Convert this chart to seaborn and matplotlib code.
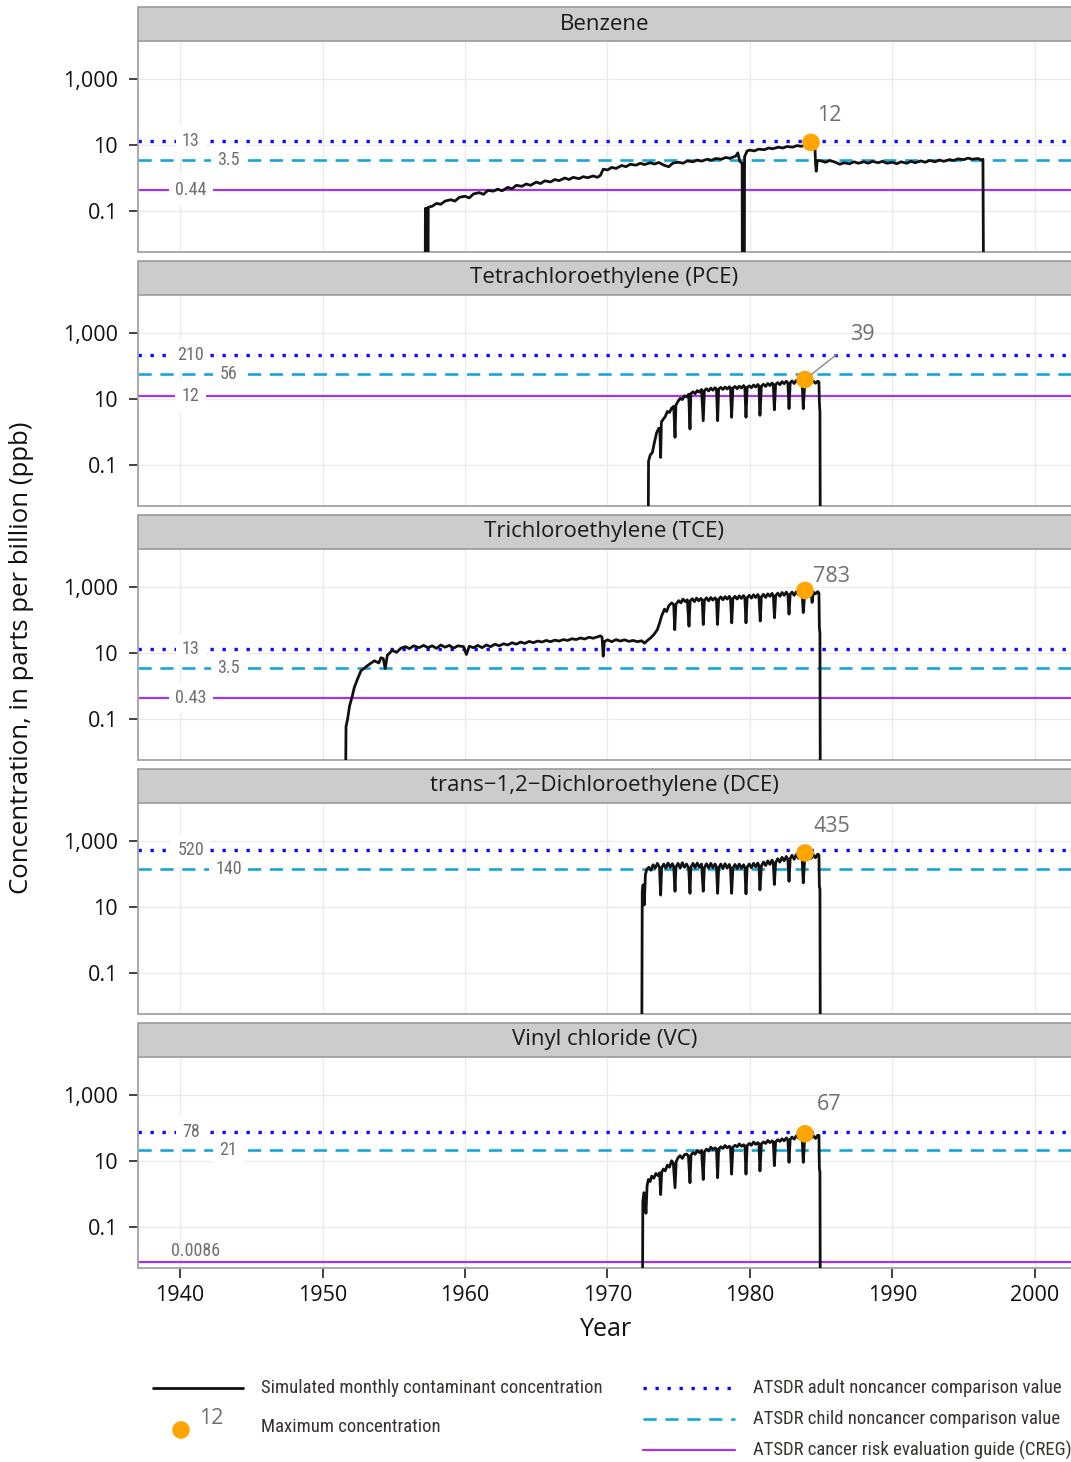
import matplotlib
matplotlib.use("Agg")
import numpy as np
import pandas as pd
import matplotlib.pyplot as plt
from matplotlib import font_manager
from matplotlib.patches import Rectangle
from matplotlib.lines import Line2D
from matplotlib.ticker import NullLocator
import seaborn as sns

# ---------------------------------------------------------------- data
chemicals = [
    "Benzene",
    "Tetrachloroethylene (PCE)",
    "Trichloroethylene (TCE)",
    "trans\u22121,2\u2212Dichloroethylene (DCE)",
    "Vinyl chloride (VC)",
]

# simulated monthly concentration, ppb (1e-4 marks the series dropping to nil)
benzene = [
    (1957.20, 1e-4), (1957.22, 0.12), (1957.30, 0.12), (1957.32, 1e-4), (1957.40, 1e-4),
    (1957.42, 0.13), (1957.7, 0.14), (1958.0, 0.17), (1958.3, 0.16), (1958.6, 0.20),
    (1959.0, 0.22), (1959.3, 0.20), (1959.6, 0.26), (1960.0, 0.28), (1960.3, 0.25),
    (1960.6, 0.33), (1961.0, 0.36), (1961.3, 0.32), (1961.6, 0.42), (1962.0, 0.40),
    (1962.3, 0.46), (1962.6, 0.41), (1963.0, 0.52), (1963.3, 0.47), (1963.6, 0.60),
    (1964.0, 0.56), (1964.3, 0.66), (1964.6, 0.60), (1965.0, 0.75), (1965.3, 0.68),
    (1965.6, 0.82), (1966.0, 0.76), (1966.3, 0.90), (1966.6, 0.83), (1967.0, 1.00),
    (1967.3, 0.90), (1967.6, 1.05), (1968.0, 0.95), (1968.3, 1.10), (1968.6, 1.02),
    (1969.0, 1.15), (1969.3, 1.05), (1969.5, 1.20), (1969.7, 1.85), (1970.0, 1.75),
    (1970.3, 2.10), (1970.6, 1.95), (1971.0, 2.40), (1971.3, 2.20), (1971.6, 2.60),
    (1972.0, 2.45), (1972.3, 2.80), (1972.6, 2.55), (1973.0, 2.90), (1973.3, 2.65),
    (1973.6, 2.95), (1974.0, 2.40), (1974.3, 2.20), (1974.6, 2.85), (1975.0, 3.00),
    (1975.3, 2.80), (1975.6, 3.30), (1976.0, 3.10), (1976.3, 3.50), (1976.6, 3.25),
    (1977.0, 3.70), (1977.3, 3.45), (1977.6, 3.90), (1978.0, 3.70), (1978.3, 4.20),
    (1978.6, 3.95), (1979.0, 4.60), (1979.15, 5.80), (1979.28, 3.20), (1979.45, 2.80),
    (1979.47, 1e-4), (1979.60, 1e-4), (1979.62, 4.40), (1979.80, 6.60), (1980.0, 7.0),
    (1980.3, 6.6), (1980.6, 7.5), (1981.0, 7.2), (1981.3, 8.1), (1981.6, 7.7),
    (1982.0, 8.6), (1982.3, 8.1), (1982.6, 9.0), (1983.0, 8.6), (1983.3, 9.6),
    (1983.6, 9.1), (1984.0, 10.4), (1984.28, 12.0), (1984.55, 10.5), (1984.60, 2.8),
    (1984.65, 1.6), (1984.72, 3.4), (1985.0, 3.3), (1985.3, 3.0), (1985.6, 3.4),
    (1986.0, 3.0), (1986.3, 2.6), (1986.6, 2.9), (1987.0, 2.7), (1987.3, 3.1),
    (1987.6, 2.8), (1988.0, 3.1), (1988.3, 2.8), (1988.6, 3.2), (1989.0, 2.9),
    (1989.3, 3.2), (1989.6, 2.8), (1990.0, 3.0), (1990.3, 2.7), (1990.6, 3.1),
    (1991.0, 2.8), (1991.3, 3.2), (1991.6, 2.9), (1992.0, 3.3), (1992.3, 3.0),
    (1992.6, 3.4), (1993.0, 3.1), (1993.3, 3.5), (1993.6, 3.2), (1994.0, 3.6),
    (1994.3, 3.4), (1994.6, 3.8), (1995.0, 3.6), (1995.3, 4.0), (1995.6, 3.7),
    (1996.0, 3.9), (1996.25, 3.5), (1996.35, 3.7), (1996.40, 1e-4),
]

pce = [
    (1972.85, 1e-4), (1972.88, 0.13), (1973.00, 0.20), (1973.15, 0.24), (1973.30, 0.50),
    (1973.45, 0.95), (1973.60, 1.30), (1973.68, 1.00), (1973.73, 0.17), (1973.78, 2.0),
    (1973.90, 2.4), (1974.05, 2.9), (1974.20, 4.2), (1974.35, 3.9), (1974.50, 5.3),
    (1974.65, 6.0), (1974.74, 0.69), (1974.80, 6.5), (1974.95, 8.5), (1975.10, 10.5),
    (1975.25, 9.6), (1975.40, 12.5), (1975.55, 11.5), (1975.70, 14.0), (1975.79, 1.23),
    (1975.85, 14.5), (1976.00, 16.5), (1976.15, 14.5), (1976.30, 18.0), (1976.45, 16.0),
    (1976.60, 19.5), (1976.72, 2.2), (1976.80, 18.0), (1976.95, 20.5), (1977.10, 17.5),
    (1977.25, 21.5), (1977.40, 18.5), (1977.55, 22.0), (1977.65, 19.5), (1977.73, 2.2),
    (1977.80, 20.0), (1977.95, 22.5), (1978.10, 19.5), (1978.25, 23.0), (1978.40, 20.0),
    (1978.55, 23.5), (1978.63, 21.5), (1978.71, 2.8), (1978.80, 21.5), (1978.95, 24.0),
    (1979.10, 20.5), (1979.25, 24.5), (1979.40, 21.5), (1979.55, 25.5), (1979.64, 22.5),
    (1979.72, 2.8), (1979.80, 22.5), (1979.95, 25.0), (1980.10, 22.0), (1980.25, 26.5),
    (1980.40, 23.0), (1980.55, 27.5), (1980.63, 24.5), (1980.70, 3.2), (1980.80, 24.5),
    (1980.95, 28.0), (1981.10, 24.0), (1981.25, 29.5), (1981.40, 25.5), (1981.55, 30.5),
    (1981.64, 27.5), (1981.71, 4.7), (1981.80, 27.5), (1981.95, 31.5), (1982.10, 27.0),
    (1982.25, 33.5), (1982.40, 29.0), (1982.55, 34.5), (1982.66, 30.5), (1982.74, 5.1),
    (1982.82, 30.5), (1982.95, 35.5), (1983.10, 29.5), (1983.25, 36.5), (1983.40, 32.0),
    (1983.55, 37.5), (1983.66, 33.5), (1983.74, 5.1), (1983.86, 39.0), (1984.00, 33.0),
    (1984.15, 36.5), (1984.30, 31.0), (1984.45, 35.0), (1984.60, 30.0), (1984.75, 34.5),
    (1984.84, 33.0), (1984.87, 8.0), (1984.91, 4.0), (1984.94, 1e-4),
]

tce = [
    (1951.60, 1e-4), (1951.65, 0.06), (1951.76, 0.10), (1951.90, 0.25), (1952.07, 0.46),
    (1952.23, 0.90), (1952.45, 1.6), (1952.70, 2.9), (1953.01, 3.7), (1953.30, 4.6),
    (1953.64, 5.8), (1953.95, 5.0), (1954.10, 7.2), (1954.26, 6.8), (1954.40, 3.4),
    (1954.55, 8.5), (1954.89, 12.0), (1955.2, 10.5), (1955.5, 14.0), (1955.83, 15.6),
    (1956.1, 13.5), (1956.4, 16.5), (1956.77, 14.5), (1957.1, 17.0), (1957.4, 14.5),
    (1957.7, 16.5), (1958.0, 13.8), (1958.3, 17.5), (1958.6, 15.0), (1958.9, 17.0),
    (1959.2, 14.0), (1959.5, 16.5), (1959.9, 15.6), (1960.1, 9.0), (1960.3, 16.0),
    (1960.6, 14.5), (1960.9, 17.0), (1961.2, 14.5), (1961.5, 17.5), (1961.8, 15.5),
    (1962.1, 18.5), (1962.4, 16.5), (1962.7, 19.0), (1963.0, 17.5), (1963.3, 20.5),
    (1963.6, 18.5), (1963.9, 21.5), (1964.2, 19.5), (1964.5, 22.5), (1964.8, 20.5),
    (1965.1, 23.0), (1965.4, 21.5), (1965.7, 24.0), (1966.0, 22.0), (1966.3, 24.5),
    (1966.6, 23.0), (1966.9, 25.5), (1967.2, 24.0), (1967.5, 27.0), (1967.8, 25.5),
    (1968.1, 28.5), (1968.4, 26.5), (1968.7, 30.0), (1969.0, 28.0), (1969.3, 31.0),
    (1969.5, 33.0), (1969.62, 30.0), (1969.70, 8.0), (1969.78, 22.0), (1970.0, 25.0),
    (1970.3, 22.0), (1970.6, 25.5), (1970.9, 23.0), (1971.2, 25.0), (1971.5, 22.5),
    (1971.8, 24.0), (1972.1, 22.0), (1972.4, 23.5), (1972.6, 19.8), (1972.8, 24.0),
    (1973.0, 28.0), (1973.25, 36.0), (1973.5, 51.0), (1973.65, 80.0), (1973.8, 133.0),
    (1974.0, 213.0), (1974.15, 180.0), (1974.3, 270.0), (1974.5, 330.0), (1974.65, 290.0),
    (1974.72, 51.0), (1974.80, 300.0), (1975.0, 385.0), (1975.15, 330.0), (1975.3, 430.0),
    (1975.45, 360.0), (1975.6, 410.0), (1975.72, 65.0), (1975.80, 380.0), (1975.95, 440.0),
    (1976.1, 360.0), (1976.25, 460.0), (1976.4, 380.0), (1976.55, 450.0), (1976.65, 400.0),
    (1976.72, 73.0), (1976.80, 390.0), (1976.95, 470.0), (1977.1, 380.0), (1977.25, 480.0),
    (1977.4, 400.0), (1977.55, 470.0), (1977.65, 410.0), (1977.72, 73.0), (1977.80, 420.0),
    (1977.95, 500.0), (1978.1, 410.0), (1978.25, 510.0), (1978.4, 430.0), (1978.55, 520.0),
    (1978.63, 450.0), (1978.72, 82.0), (1978.80, 440.0), (1978.95, 520.0), (1979.1, 430.0),
    (1979.25, 540.0), (1979.4, 450.0), (1979.55, 550.0), (1979.64, 470.0), (1979.72, 82.0),
    (1979.80, 470.0), (1979.95, 560.0), (1980.1, 460.0), (1980.25, 580.0), (1980.4, 480.0),
    (1980.55, 590.0), (1980.63, 500.0), (1980.72, 93.0), (1980.80, 500.0), (1980.95, 600.0),
    (1981.1, 480.0), (1981.25, 620.0), (1981.4, 520.0), (1981.55, 640.0), (1981.64, 540.0),
    (1981.72, 117.0), (1981.80, 540.0), (1981.95, 650.0), (1982.1, 520.0), (1982.25, 680.0),
    (1982.4, 560.0), (1982.55, 700.0), (1982.66, 580.0), (1982.74, 150.0), (1982.82, 600.0),
    (1982.95, 700.0), (1983.1, 560.0), (1983.25, 720.0), (1983.4, 600.0), (1983.55, 740.0),
    (1983.66, 620.0), (1983.74, 168.0), (1983.86, 783.0), (1984.0, 640.0), (1984.15, 740.0),
    (1984.3, 600.0), (1984.36, 340.0), (1984.45, 700.0), (1984.6, 620.0), (1984.75, 720.0),
    (1984.84, 650.0), (1984.87, 60.0), (1984.91, 40.0), (1984.94, 1e-4),
]

dce = [
    (1972.40, 1e-4), (1972.44, 30.0), (1972.50, 47.0), (1972.58, 11.5), (1972.66, 95.0),
    (1972.75, 137.0), (1972.90, 160.0), (1973.05, 130.0), (1973.20, 190.0), (1973.35, 150.0),
    (1973.50, 210.0), (1973.65, 160.0), (1973.73, 23.0), (1973.80, 150.0), (1973.95, 200.0),
    (1974.10, 150.0), (1974.25, 215.0), (1974.40, 160.0), (1974.55, 205.0), (1974.65, 165.0),
    (1974.74, 30.0), (1974.80, 160.0), (1974.95, 210.0), (1975.10, 150.0), (1975.25, 220.0),
    (1975.40, 160.0), (1975.55, 200.0), (1975.70, 150.0), (1975.79, 26.0), (1975.85, 160.0),
    (1976.00, 210.0), (1976.15, 155.0), (1976.30, 215.0), (1976.45, 160.0), (1976.60, 200.0),
    (1976.72, 30.0), (1976.80, 155.0), (1976.95, 205.0), (1977.10, 150.0), (1977.25, 210.0),
    (1977.40, 155.0), (1977.55, 200.0), (1977.65, 160.0), (1977.73, 26.0), (1977.80, 150.0),
    (1977.95, 200.0), (1978.10, 145.0), (1978.25, 205.0), (1978.40, 150.0), (1978.55, 195.0),
    (1978.63, 155.0), (1978.71, 26.0), (1978.80, 150.0), (1978.95, 195.0), (1979.10, 145.0),
    (1979.25, 200.0), (1979.40, 150.0), (1979.55, 190.0), (1979.64, 155.0), (1979.72, 25.0),
    (1979.80, 160.0), (1979.95, 200.0), (1980.10, 155.0), (1980.25, 210.0), (1980.40, 165.0),
    (1980.55, 215.0), (1980.63, 175.0), (1980.70, 33.0), (1980.80, 175.0), (1980.95, 230.0),
    (1981.10, 180.0), (1981.25, 250.0), (1981.40, 195.0), (1981.55, 265.0), (1981.64, 210.0),
    (1981.71, 48.0), (1981.80, 220.0), (1981.95, 290.0), (1982.10, 230.0), (1982.25, 320.0),
    (1982.40, 250.0), (1982.55, 340.0), (1982.66, 270.0), (1982.74, 60.0), (1982.82, 290.0),
    (1982.95, 370.0), (1983.10, 280.0), (1983.25, 390.0), (1983.40, 300.0), (1983.55, 400.0),
    (1983.66, 320.0), (1983.74, 54.0), (1983.86, 435.0), (1984.00, 330.0), (1984.15, 400.0),
    (1984.30, 300.0), (1984.45, 380.0), (1984.60, 310.0), (1984.75, 400.0), (1984.84, 380.0),
    (1984.87, 42.0), (1984.91, 35.0), (1984.94, 1e-4),
]

vc = [
    (1972.45, 1e-4), (1972.48, 0.6), (1972.56, 1.1), (1972.62, 0.9), (1972.70, 0.26),
    (1972.78, 1.8), (1972.87, 2.75), (1973.00, 2.4), (1973.10, 3.5), (1973.25, 3.0),
    (1973.40, 4.2), (1973.55, 3.6), (1973.66, 4.4), (1973.73, 0.96), (1973.80, 4.5),
    (1973.92, 5.7), (1974.05, 5.0), (1974.20, 7.5), (1974.35, 6.5), (1974.50, 10.2),
    (1974.62, 8.5), (1974.74, 1.55), (1974.82, 9.5), (1974.95, 12.5), (1975.09, 14.5),
    (1975.25, 12.0), (1975.40, 15.5), (1975.56, 16.3), (1975.68, 14.0), (1975.79, 2.2),
    (1975.86, 15.0), (1976.00, 18.0), (1976.15, 16.0), (1976.30, 20.7), (1976.45, 18.0),
    (1976.60, 21.0), (1976.72, 2.75), (1976.80, 19.0), (1976.95, 23.0), (1977.10, 20.0),
    (1977.25, 26.3), (1977.40, 22.0), (1977.55, 25.0), (1977.65, 23.0), (1977.73, 3.1),
    (1977.80, 23.0), (1977.95, 27.0), (1978.10, 24.0), (1978.25, 29.5), (1978.40, 25.0),
    (1978.55, 28.0), (1978.63, 26.0), (1978.71, 4.0), (1978.80, 26.0), (1978.95, 30.0),
    (1979.10, 27.0), (1979.25, 33.0), (1979.40, 28.0), (1979.55, 31.0), (1979.64, 29.0),
    (1979.72, 4.0), (1979.80, 29.0), (1979.95, 34.0), (1980.10, 30.0), (1980.25, 37.5),
    (1980.40, 32.0), (1980.55, 36.0), (1980.63, 33.0), (1980.70, 5.0), (1980.80, 33.0),
    (1980.95, 38.0), (1981.10, 34.0), (1981.25, 42.0), (1981.40, 36.0), (1981.55, 41.0),
    (1981.64, 38.0), (1981.71, 7.2), (1981.80, 38.0), (1981.95, 44.0), (1982.10, 39.0),
    (1982.25, 47.0), (1982.40, 41.0), (1982.55, 50.0), (1982.66, 44.0), (1982.74, 9.1),
    (1982.82, 45.0), (1982.95, 53.0), (1983.10, 46.0), (1983.25, 58.0), (1983.40, 50.0),
    (1983.55, 60.0), (1983.66, 52.0), (1983.74, 9.1), (1983.86, 67.0), (1984.00, 55.0),
    (1984.15, 62.0), (1984.30, 50.0), (1984.45, 58.0), (1984.60, 48.0), (1984.75, 60.0),
    (1984.84, 60.0), (1984.87, 6.0), (1984.91, 4.5), (1984.94, 1e-4),
]

series = [benzene, pce, tce, dce, vc]

# ATSDR comparison values, ppb
adult_cv = [13, 210, 13, 520, 78]
child_cv = [3.5, 56, 3.5, 140, 21]
creg = [0.44, 12, 0.43, None, 0.0086]

# maximum simulated concentration
max_year = [1984.28, 1983.86, 1983.86, 1983.86, 1983.86]
max_ppb = [12, 39, 783, 435, 67]

year_ticks = [1940, 1950, 1960, 1970, 1980, 1990, 2000]
ppb_ticks = [0.1, 10, 1000]
ppb_tick_labels = ["0.1", "10", "1,000"]

legend_labels = [
    "Simulated monthly contaminant concentration",
    "Maximum concentration",
    "ATSDR adult noncancer comparison value",
    "ATSDR child noncancer comparison value",
    "ATSDR cancer risk evaluation guide (CREG)",
]

# ---------------------------------------------------------------- styling
BLACK = "#111111"
ADULT = "#0a0aff"
CHILD = "#17a6d8"
CREG_C = "#a236ee"
ORANGE = "#ffa500"
LABEL_GRAY = "#6f6f6f"
STRIP = "#cccccc"
GRID = "#ebebeb"
SPINE = "#a3a3a3"
LEGEND_TXT = "#3a3131"

adult_ls = (0, (1.0, 2.6))
child_ls = (0, (5.0, 3.3))

sns.set_theme(style="white")
plt.rcParams["font.family"] = ["Open Sans", "DejaVu Sans"]

# narrow face for the reference-line labels and legend
_installed = {f.name for f in font_manager.fontManager.ttflist}
if "Roboto Condensed" in _installed:
    NARROW, NARROW_SCALE = ["Roboto Condensed", "DejaVu Sans"], 1.0
elif "Liberation Sans Narrow" in _installed:
    NARROW, NARROW_SCALE = ["Liberation Sans Narrow", "DejaVu Sans"], 1.0
else:
    NARROW, NARROW_SCALE = ["Roboto", "DejaVu Sans"], 0.85

frames = []
for name, pts in zip(chemicals, series):
    yrs, vals = zip(*pts)
    frames.append(pd.DataFrame({"chemical": name, "year": yrs, "ppb": vals}))
df = pd.concat(frames, ignore_index=True)

g = sns.FacetGrid(df, row="chemical", row_order=chemicals, sharex=True, sharey=True,
                  height=2.1, aspect=4.4, despine=False)
g.map_dataframe(sns.lineplot, x="year", y="ppb", color=BLACK, linewidth=2.0,
                estimator=None, sort=False, zorder=3)
fig = g.figure
fig.set_size_inches(10.71, 14.62)
fig.set_dpi(100)
g.set_titles("")
g.set_axis_labels("", "")

W, H = 1071.0, 1462.0
label_offsets = [(18, 27), (57, 45), (27, 14), (27, 26), (24, 29)]
ref_fs = 13.0 * NARROW_SCALE

for i, ax in enumerate(g.axes.flat):
    top = 42 + 254 * i
    ax.set_position([138 / W, 1 - (top + 210) / H, 933 / W, 210 / H])
    ax.set_yscale("log")
    ax.set_ylim(0.00573, 13200)
    ax.set_xlim(1937.05, 2002.53)
    ax.set_yticks(ppb_ticks)
    ax.set_yticklabels(ppb_tick_labels)
    ax.yaxis.set_minor_locator(NullLocator())
    ax.set_xticks(year_ticks)
    ax.xaxis.set_minor_locator(NullLocator())
    ax.grid(True, which="major", color=GRID, lw=1.0, zorder=0)
    ax.set_axisbelow(True)
    for s in ("top", "right"):
        ax.spines[s].set_visible(False)
    for s in ("left", "bottom"):
        ax.spines[s].set_color(SPINE)
        ax.spines[s].set_linewidth(1.3)
    ax.tick_params(axis="y", which="major", length=6.5, width=1.1, color=BLACK,
                   pad=8, labelsize=15.5, labelcolor=BLACK, left=True)
    if i == len(chemicals) - 1:
        ax.tick_params(axis="x", which="major", length=7, width=1.1, color=BLACK,
                       pad=5, labelsize=15.5, labelcolor=BLACK, bottom=True,
                       labelbottom=True)
        ax.set_xticklabels([str(y) for y in year_ticks])
    else:
        ax.tick_params(axis="x", length=0, labelbottom=False)

    # strip with panel title
    ax.add_patch(Rectangle((0, 1 + 1 / 210), 1.01, 34 / 210, transform=ax.transAxes,
                           clip_on=False, facecolor=STRIP, edgecolor="#9a9a9a",
                           lw=1.2, zorder=5))
    ax.text(0.5, 1 + 18 / 210, chemicals[i], transform=ax.transAxes, ha="center",
            va="center", fontsize=16, color="#1a1a1a", zorder=6)

    # comparison lines
    ax.axhline(adult_cv[i], color=ADULT, lw=2.4, ls=adult_ls, dash_capstyle="butt",
               zorder=2)
    ax.axhline(child_cv[i], color=CHILD, lw=1.9, ls=child_ls, dash_capstyle="butt",
               zorder=2)
    box = dict(boxstyle="square,pad=0.35", facecolor="white", edgecolor="none")
    ax.text(1940.75, adult_cv[i], f"{adult_cv[i]:g}", ha="center", va="center",
            fontsize=ref_fs, color=LABEL_GRAY, family=NARROW, bbox=box, zorder=4)
    ax.text(1943.4, child_cv[i], f"{child_cv[i]:g}", ha="center", va="center",
            fontsize=ref_fs, color=LABEL_GRAY, family=NARROW, bbox=box, zorder=4)
    if creg[i] is not None:
        ax.axhline(creg[i], color=CREG_C, lw=1.6, zorder=2)
        if creg[i] < 0.05:
            ax.annotate(f"{creg[i]:g}", xy=(1941.1, creg[i]), xytext=(0, 8),
                        textcoords="offset points", ha="center", va="center",
                        fontsize=ref_fs, color=LABEL_GRAY, family=NARROW, zorder=4)
        else:
            ax.text(1940.75, creg[i], f"{creg[i]:g}", ha="center", va="center",
                    fontsize=ref_fs, color=LABEL_GRAY, family=NARROW, bbox=box,
                    zorder=4)

    # maximum concentration marker
    sns.scatterplot(x=[max_year[i]], y=[max_ppb[i]], ax=ax, color=ORANGE, s=160,
                    edgecolor="none", zorder=5, legend=False)
    dx, dy = label_offsets[i]
    arrow = (dict(arrowstyle="-", color="#8a8a8a", lw=1.0, shrinkA=9, shrinkB=6)
             if i == 1 else None)
    ax.annotate(f"{max_ppb[i]:g}", xy=(max_year[i], max_ppb[i]),
                xytext=(dx * 0.72, dy * 0.72), textcoords="offset points",
                ha="center", va="center", fontsize=15.5, color=LABEL_GRAY,
                arrowprops=arrow, zorder=6)

# axis titles
fig.text(22 / W, 1 - 658 / H, "Concentration, in parts per billion (ppb)",
         rotation=90, ha="center", va="center", fontsize=18.5, color=BLACK)
fig.text(606 / W, 1 - 1330 / H, "Year", ha="center", va="center", fontsize=18,
         color=BLACK)

# legend block (pixel coordinates on an overlay)
lax = fig.add_axes([0, 0, 1, 1], facecolor="none")
lax.set_xlim(0, W)
lax.set_ylim(H, 0)
lax.axis("off")
lax.add_line(Line2D([153, 243], [1388, 1388], color=BLACK, lw=2.0))
lax.scatter([181], [1430], s=160, color=ORANGE, edgecolor="none")
lax.text(211, 1418, f"{max_ppb[0]:g}", ha="center", va="center", fontsize=15.5,
         color=LABEL_GRAY)
lax.add_line(Line2D([643, 735], [1388, 1388], color=ADULT, lw=2.4, ls=adult_ls,
                    dash_capstyle="butt"))
lax.add_line(Line2D([643, 735], [1419, 1419], color=CHILD, lw=1.9, ls=child_ls,
                    dash_capstyle="butt"))
lax.add_line(Line2D([643, 735], [1450, 1450], color=CREG_C, lw=1.6))
legend_pos = [(261, 1388), (261, 1427), (753, 1388), (753, 1419), (753, 1450)]
for (lx, ly), txt in zip(legend_pos, legend_labels):
    lax.text(lx, ly, txt, ha="left", va="center", fontsize=13.5 * NARROW_SCALE,
             color=LEGEND_TXT, family=NARROW)

fig.savefig("out.png", dpi=100)
